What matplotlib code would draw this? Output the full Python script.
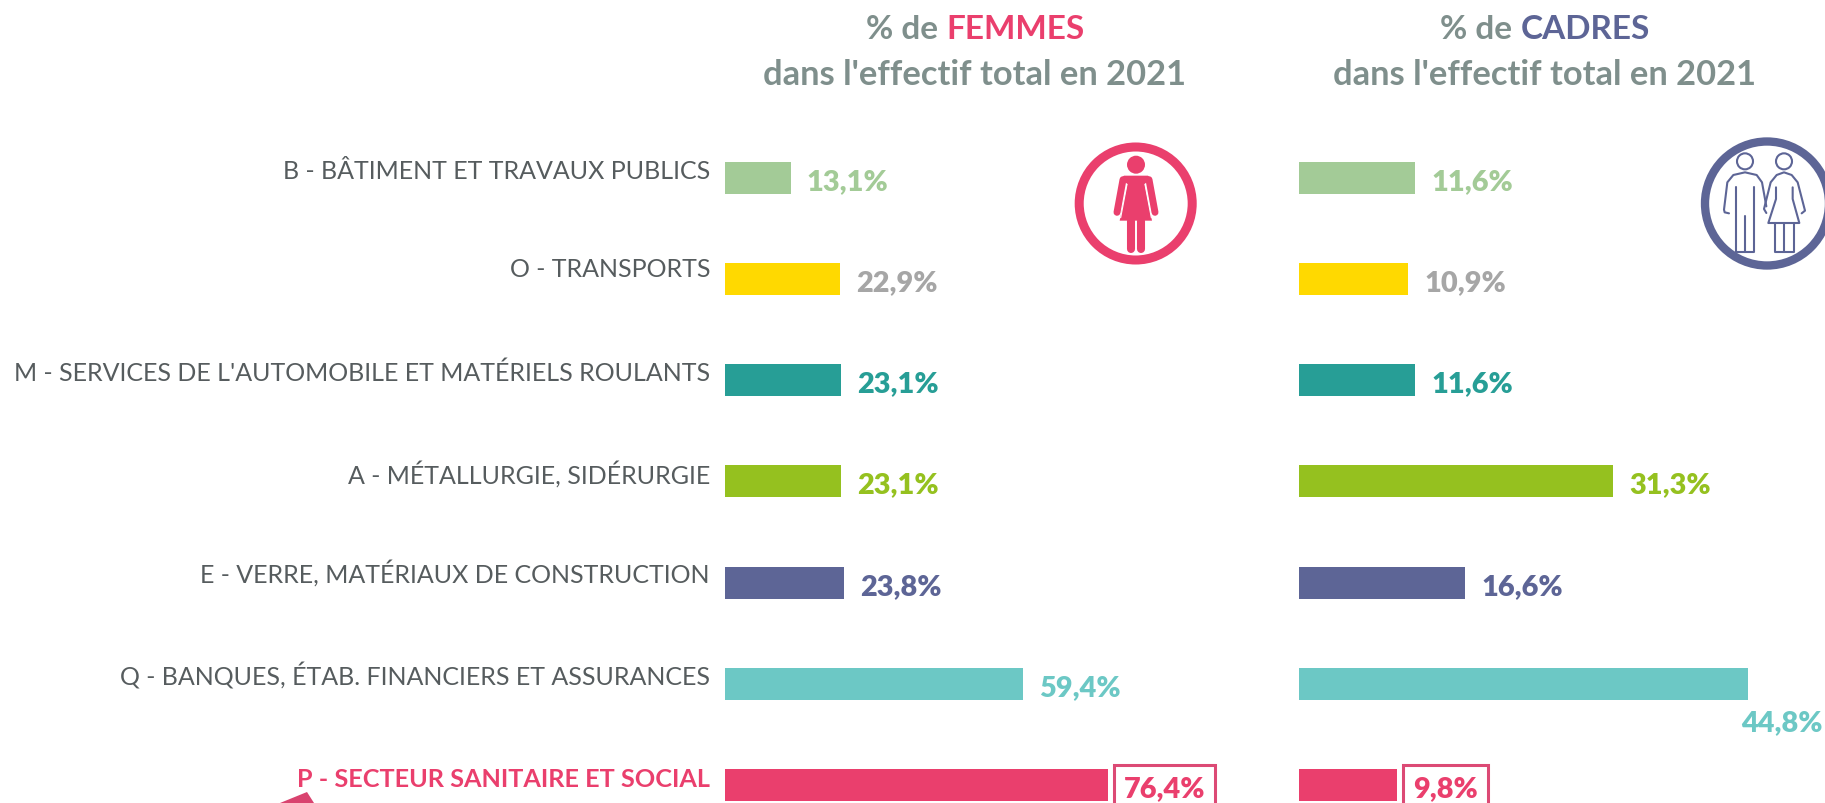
import matplotlib
matplotlib.use("Agg")
import matplotlib.pyplot as plt
from matplotlib.patches import Circle, Polygon

plt.rcParams['font.family'] = ['Lato', 'DejaVu Sans']

W, H = 1825, 804

secteurs = ["B - BÂTIMENT ET TRAVAUX PUBLICS", "O - TRANSPORTS",
            "M - SERVICES DE L'AUTOMOBILE ET MATÉRIELS ROULANTS",
            "A - MÉTALLURGIE, SIDÉRURGIE", "E - VERRE, MATÉRIAUX DE CONSTRUCTION",
            "Q - BANQUES, ÉTAB. FINANCIERS ET ASSURANCES",
            "P - SECTEUR SANITAIRE ET SOCIAL"]
femmes = [13.1, 22.9, 23.1, 23.1, 23.8, 59.4, 76.4]
cadres = [11.6, 10.9, 11.6, 31.3, 16.6, 44.8, 9.8]
couleurs = ["#A3CB97", "#FFD900", "#279E96", "#95C11F", "#5D6596", "#6CC8C5", "#EA3F6D"]
couleurs_txt = ["#A3CB97", "#A6A6A6", "#279E96", "#95C11F", "#5D6596", "#6CC8C5", "#EA3F6D"]

GRIS = "#7F8F8C"
ROSE = "#EA3F6D"
BLEU = "#5D6596"

# les libelles ne tombent pas tous pareil par rapport aux barres
decalage_libelle = [0, 3, 0, -1, 1, -1, -1]

fig = plt.figure(figsize=(W / 100, H / 100), dpi=100)

# calque en pixels pour les titres et les icones
fond = fig.add_axes([0, 0, 1, 1])
fond.set_xlim(0, W)
fond.set_ylim(H, 0)
fond.axis("off")


def panneau(gauche, px_par_pct):
    ax = fig.add_axes([gauche / W, 0, (W - gauche) / W, 1])
    ax.set_xlim(0, (W - gauche) / px_par_pct)
    ax.set_ylim(6.178, -1.769)
    ax.axis("off")
    ax.patch.set_alpha(0)
    return ax


def fmt(v):
    return f"{v:.1f}".replace(".", ",") + "%"


def barres(ax, valeurs):
    ax.barh(range(7), valeurs, height=0.316, color=couleurs)
    for i, v in enumerate(valeurs):
        dx, dy = 16, -11
        if v == 44.8:  # etiquette sous la barre
            dx, dy = -7, -46
        boite = None
        if i == 6:
            boite = dict(boxstyle="square,pad=0.34", fc="white", ec="#DC4A75", lw=2.2)
        ax.annotate(fmt(v), (v, i), xytext=(dx, dy), textcoords="offset pixels",
                    va="baseline", ha="left", fontsize=20.8, fontweight="heavy",
                    color=couleurs_txt[i], bbox=boite, annotation_clip=False)


ax1 = panneau(725, 5.01)
ax2 = panneau(1299, 10.03)
barres(ax1, femmes)
barres(ax2, cadres)

for i, nom in enumerate(secteurs):
    rose = i == 6
    ax1.annotate(nom, (0, i), xytext=(-15, decalage_libelle[i]), textcoords="offset pixels",
                 va="baseline", ha="right",
                 fontsize=18.2 if rose else 17.98, color=ROSE if rose else "#565C5E",
                 fontweight="bold" if rose else "normal", annotation_clip=False)


def titre(cx, mot, couleur):
    morceaux = [("% de ", GRIS), (mot, couleur)]
    r = fig.canvas.get_renderer()
    txts = [fond.text(0, 39, t, color=c, fontsize=24, fontweight="bold", va="baseline", ha="left")
            for t, c in morceaux]
    larg = [t.get_window_extent(r).width for t in txts]
    x = cx - sum(larg) / 2
    txts[0].set_x(x)
    txts[1].set_x(x + larg[0])
    fond.text(cx, 85, "dans l'effectif total en 2021", color=GRIS, fontsize=24.8,
              fontweight="bold", va="baseline", ha="center")


titre(975, "FEMMES", ROSE)
titre(1545, "CADRES", BLEU)


def trait(pts, ox, c, lw, cap="round"):
    xs = [ox + p[0] / 3 for p in pts]
    ys = [120 + p[1] / 3 for p in pts]
    fond.plot(xs, ys, color=c, lw=lw, solid_capstyle=cap, solid_joinstyle="round")


# icone femme
fond.add_patch(Circle((1135.7, 204.5), 56.5, fc="white", ec=ROSE, lw=6.5))
fond.add_patch(Circle((1136, 165.7), 9, fc=ROSE, ec="none"))
fond.add_patch(Polygon([(1050 + x / 3, 120 + y / 3) for x, y in
                        [(222, 170), (294, 170), (302, 178), (284, 195), (306, 305),
                         (209, 305), (232, 195), (213, 178)]], fc=ROSE, ec="none"))
trait([(219, 182), (201, 280)], 1050, ROSE, 5)
trait([(297, 182), (315, 280)], 1050, ROSE, 5)
trait([(231, 196), (212, 296)], 1050, "white", 0.8)
trait([(285, 196), (304, 296)], 1050, "white", 0.8)
trait([(244, 305), (244, 390)], 1050, ROSE, 5.8)
trait([(272, 305), (272, 390)], 1050, ROSE, 5.8)

# icone couple
fond.add_patch(Circle((1767, 204.5), 62, fc="white", ec=BLEU, lw=6))
for cx in (285, 402):
    fond.add_patch(Circle((1650 + cx / 3, 120 + 127 / 3), 8, fc="none", ec=BLEU, lw=1.5))
trait([(237, 283), (224, 280), (222, 272), (232, 190), (250, 168), (285, 160), (320, 168),
       (336, 190), (349, 262)], 1650, BLEU, 1.5)
trait([(257, 205), (257, 400), (312, 400), (312, 205)], 1650, BLEU, 1.5)
trait([(284, 290), (284, 400)], 1650, BLEU, 1.5)
trait([(349, 282), (342, 270), (362, 190), (380, 168), (402, 160), (425, 168), (443, 190),
       (465, 275), (455, 283)], 1650, BLEU, 1.5)
trait([(378, 205), (378, 240), (355, 312), (448, 312), (428, 240), (428, 205)], 1650, BLEU, 1.5)
trait([(375, 312), (375, 400), (432, 400), (432, 312)], 1650, BLEU, 1.5)
trait([(402, 312), (402, 400)], 1650, BLEU, 1.5)

# bout de fleche coupe en bas
fond.add_patch(Polygon([(280, 804), (307, 793), (314, 804)], fc="#D9436F", ec="none"))

fig.savefig("out.png", dpi=100)
